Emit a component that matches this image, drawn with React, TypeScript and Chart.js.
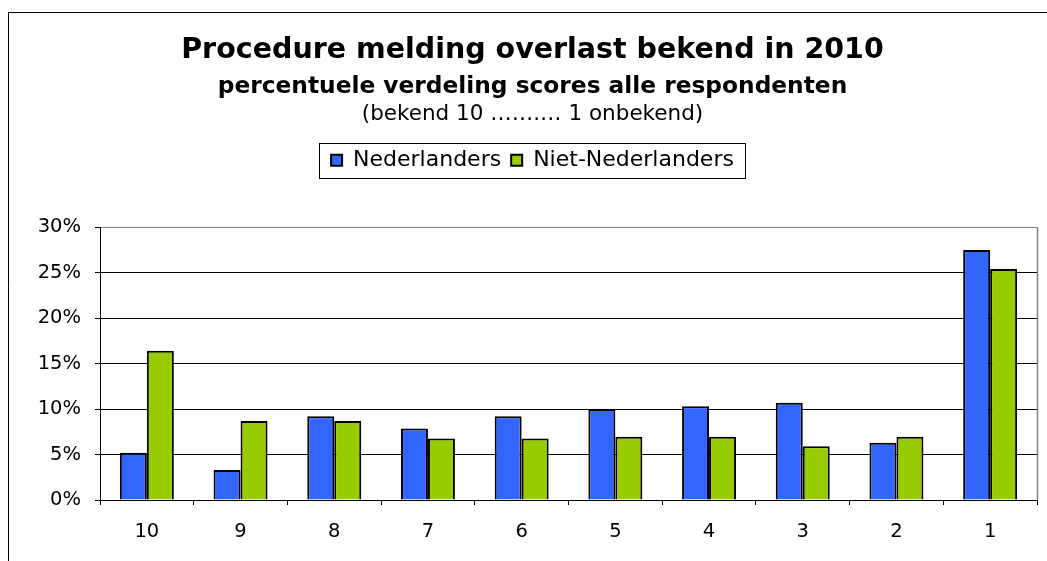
import React, { useEffect, useRef } from 'react';
import { Chart, registerables } from 'chart.js';

Chart.register(...registerables);

const categories = ['10', '9', '8', '7', '6', '5', '4', '3', '2', '1'];
const nederlanders = [5.2, 3.3, 9.2, 7.85, 9.2, 10.0, 10.3, 10.7, 6.3, 27.5];
const nietNederlanders = [16.4, 8.7, 8.7, 6.75, 6.75, 6.95, 6.95, 5.9, 6.95, 25.4];
const seriesNames = ['Nederlanders', 'Niet-Nederlanders'];
const titleText = 'Procedure melding overlast bekend in 2010';
const subtitleText = 'percentuele verdeling scores alle respondenten';
const thirdLine = '(bekend 10 …….… 1 onbekend)';

const FONT = '"DejaVu Sans", Verdana, sans-serif';

const decorPlugin = {
  id: 'decor',
  beforeLayout(chart: any) {
    const lg = chart.legend;
    if (lg && !lg.__patched) {
      lg.__patched = true;
      const origFit = lg.fit;
      lg.fit = function (...args: any[]) {
        origFit.apply(this, args);
        this.height += 46;
      };
    }
  },
  beforeDraw(chart: any) {
    const ctx = chart.ctx;
    ctx.save();
    ctx.fillStyle = '#ffffff';
    ctx.fillRect(0, 0, chart.width, chart.height);
    ctx.strokeStyle = '#000000';
    ctx.lineWidth = 1;
    ctx.beginPath();
    ctx.moveTo(8.5, chart.height);
    ctx.lineTo(8.5, 12.5);
    ctx.lineTo(chart.width, 12.5);
    ctx.stroke();
    ctx.restore();
  },
  afterDraw(chart: any) {
    const ctx = chart.ctx;
    const ca = chart.chartArea;
    ctx.save();
    // plot right border
    ctx.strokeStyle = '#808080';
    ctx.lineWidth = 1.5;
    ctx.beginPath();
    ctx.moveTo(Math.round(ca.right) + 0.5, ca.top);
    ctx.lineTo(Math.round(ca.right) + 0.5, ca.bottom);
    ctx.stroke();
    // third title line
    const tb = chart.titleBlock;
    const cx = tb ? (tb.left + tb.right) / 2 : chart.width / 2;
    ctx.fillStyle = '#000000';
    ctx.font = `21.5px ${FONT}`;
    ctx.textAlign = 'center';
    ctx.textBaseline = 'middle';
    ctx.fillText(thirdLine, cx, 114);
    // legend border
    const lg = chart.legend;
    if (lg && lg.legendHitBoxes && lg.legendHitBoxes.length) {
      const hb = lg.legendHitBoxes;
      const first = hb[0];
      const last = hb[hb.length - 1];
      const cy = first.top + first.height / 2;
      const left = Math.round(first.left - 12) + 0.5;
      const right = Math.round(last.left + last.width + 11) + 0.5;
      const top = Math.round(cy - 17.5) + 0.5;
      const bottom = Math.round(cy + 17.5) + 0.5;
      ctx.strokeStyle = '#000000';
      ctx.lineWidth = 1;
      ctx.strokeRect(left, top, right - left, bottom - top);
    }
    ctx.restore();
  },
};

export default function App() {
  const ref = useRef<HTMLCanvasElement>(null);
  useEffect(() => {
    if (!ref.current) return;
    Chart.defaults.font.family = FONT;
    Chart.defaults.color = '#000000';
    const chart = new Chart(ref.current, {
      type: 'bar',
      data: {
        labels: categories,
        datasets: [
          {
            label: seriesNames[0],
            data: nederlanders,
            backgroundColor: '#3366FF',
            borderColor: '#000000',
            borderWidth: 2,
          },
          {
            label: seriesNames[1],
            data: nietNederlanders,
            backgroundColor: '#99CC00',
            borderColor: '#000000',
            borderWidth: 2,
          },
        ],
      },
      options: {
        responsive: false,
        animation: false,
        devicePixelRatio: 1,
        layout: { padding: { left: 28, right: 10, top: 0, bottom: 0 } },
        datasets: {
          bar: { categoryPercentage: 0.576, barPercentage: 1 },
        },
        plugins: {
          tooltip: { enabled: false },
          title: {
            display: true,
            text: titleText,
            color: '#000000',
            font: { size: 28.5, weight: 'bold', family: FONT },
            padding: { top: 33, bottom: 0 },
          },
          subtitle: {
            display: true,
            text: subtitleText,
            color: '#000000',
            font: { size: 23.3, weight: 'bold', family: FONT },
            padding: { top: 6, bottom: 38 },
          },
          legend: {
            display: true,
            position: 'top',
            labels: {
              boxWidth: 11,
              boxHeight: 11,
              padding: 10,
              color: '#000000',
              font: { size: 22, family: FONT },
            },
          },
        },
        scales: {
          x: {
            offset: true,
            grid: {
              offset: true,
              drawOnChartArea: false,
              drawTicks: true,
              tickLength: 5,
              tickColor: '#000000',
            },
            border: { display: true, color: '#000000', width: 1 },
            ticks: {
              color: '#000000',
              padding: 15,
              maxRotation: 0,
              font: { size: 19.5, family: FONT },
            },
            afterFit(scale: any) {
              scale.height = 61;
            },
          },
          y: {
            min: 0,
            max: 30,
            grid: {
              color: (c: any) => (c.tick && c.tick.value === 30 ? '#808080' : '#000000'),
              lineWidth: 1,
              drawTicks: true,
              tickLength: 5,
              tickColor: '#000000',
            },
            border: { display: true, color: '#000000', width: 1 },
            ticks: {
              stepSize: 5,
              padding: 14,
              color: '#000000',
              font: { size: 19.5, family: FONT },
              callback: (v: any) => `${v}%`,
            },
            afterFit(scale: any) {
              scale.width = 72;
            },
          },
        },
      },
      plugins: [decorPlugin],
    } as any);
    return () => chart.destroy();
  }, []);
  return (
    <div style={{ position: 'absolute', left: 0, top: 0, width: 1047, height: 561 }}>
      <canvas ref={ref} width={1047} height={561} style={{ display: 'block', width: 1047, height: 561 }} />
    </div>
  );
}
